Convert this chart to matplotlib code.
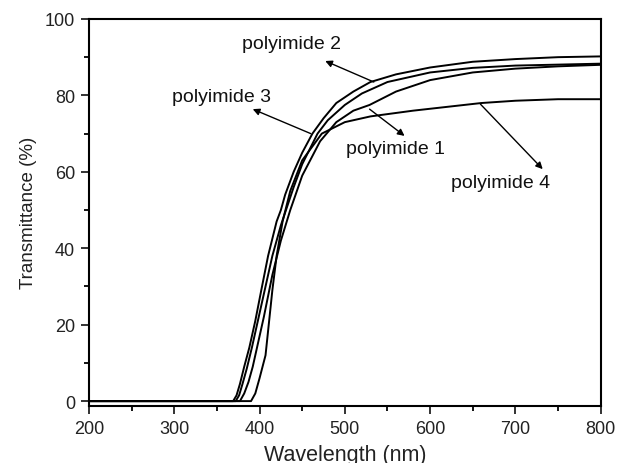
import matplotlib
matplotlib.use("Agg")
import matplotlib.pyplot as plt
from matplotlib.ticker import MultipleLocator

plt.rcParams['font.family'] = ['Liberation Sans', 'DejaVu Sans']

# transmittance spectra (wavelength nm, %)
wl_pi2 = [200, 300, 369, 373, 377, 382, 388, 395, 402, 410, 420, 425, 430, 440, 450, 462,
          475, 490, 510, 530, 560, 600, 650, 700, 750, 800]
t_pi2 = [0, 0, 0, 1.5, 4.5, 9, 14, 21, 29, 38, 47, 50, 54, 60, 65, 70,
         74, 78, 81, 83.5, 85.5, 87.3, 88.8, 89.5, 90, 90.2]

wl_pi3 = [200, 300, 372, 376, 380, 385, 391, 398, 406, 415, 425, 431, 440, 450, 468,
          480, 500, 520, 550, 600, 650, 700, 800]
t_pi3 = [0, 0, 0, 1.5, 4.5, 8.5, 14, 21, 29, 38, 46, 50, 56, 62, 70,
         73.5, 77.5, 80.5, 83.5, 86, 87.2, 87.8, 88.3]

wl_pi1 = [200, 300, 377, 382, 387, 392, 398, 405, 415, 425, 436, 450, 471, 490, 510,
          529, 560, 600, 650, 700, 750, 800]
t_pi1 = [0, 0, 0, 2, 5, 9, 15, 22, 33, 42, 50, 59, 68, 73, 76,
         77.5, 81, 84, 86, 87, 87.6, 88]

wl_pi4 = [200, 300, 390, 395, 400, 407, 415, 420, 427, 436, 450, 473, 500, 530,
          580, 620, 660, 700, 750, 800]
t_pi4 = [0, 0, 0, 2, 6, 12, 29, 38, 47, 55, 63, 70, 73, 74.5,
         76, 77, 78, 78.6, 79, 79]

labels = ['polyimide 2', 'polyimide 3', 'polyimide 1', 'polyimide 4']
label_xy = [(437, 93.5), (355, 79.6), (559, 66), (683, 57.3)]
arrow_from = [(534, 83.5), (460, 70), (529, 76.4), (659, 77.7)]
arrow_to = [(477, 89), (392, 76.4), (570, 69.4), (732, 60.7)]

fig = plt.figure(figsize=(6.18, 4.64), dpi=100)
ax = fig.add_axes([0.144, 0.1235, 0.828, 0.8335])

for wl, t in [(wl_pi2, t_pi2), (wl_pi3, t_pi3), (wl_pi1, t_pi1), (wl_pi4, t_pi4)]:
    ax.plot(wl, t, color='black', lw=1.4)

for lab, xy in zip(labels, label_xy):
    ax.text(xy[0], xy[1], lab, fontsize=14, ha='center', va='center', color='#111111')

for a, b in zip(arrow_from, arrow_to):
    ax.annotate('', xy=b, xytext=a,
                arrowprops=dict(arrowstyle='-|>', color='black', lw=1.0,
                                mutation_scale=10, shrinkA=0, shrinkB=0))

ax.set_xlim(200, 800)
ax.set_ylim(-1.2, 100)
ax.xaxis.set_major_locator(MultipleLocator(100))
ax.xaxis.set_minor_locator(MultipleLocator(50))
ax.yaxis.set_major_locator(MultipleLocator(20))
ax.yaxis.set_minor_locator(MultipleLocator(10))
ax.tick_params(which='major', direction='out', length=6, width=1.3, labelsize=13,
               colors='#222222', top=False, right=False, pad=4)
ax.tick_params(which='minor', direction='out', length=3.5, width=1.3, top=False, right=False)
for s in ax.spines.values():
    s.set_linewidth(1.5)

ax.set_xlabel('Wavelength (nm)', fontsize=15.5, labelpad=5, color='#222222')
ax.set_ylabel('Transmittance (%)', fontsize=13.5, labelpad=6, color='#222222')

fig.savefig('out.png', dpi=100)
